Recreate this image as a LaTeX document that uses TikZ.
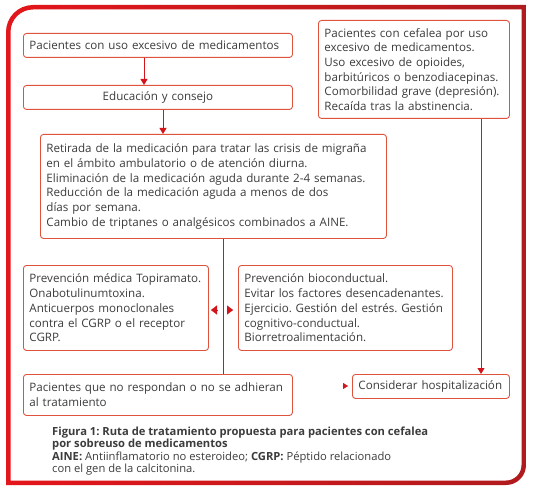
\documentclass[tikz,border=0pt]{standalone}
\usepackage{fontspec}
\setmainfont{Open Sans}
\usetikzlibrary{arrows.meta}
\frenchspacing
\definecolor{frameL}{HTML}{E3161B}
\definecolor{frameR}{HTML}{B01B1E}
\definecolor{boxc}{HTML}{DF523C}
\definecolor{arrc}{HTML}{D3141B}
\definecolor{txt}{HTML}{3C3C3C}
\tikzset{
  bx/.style={draw=boxc, line width=0.9pt, rounded corners=3pt, fill=white,
    anchor=north west, inner xsep=6pt, inner ysep=0pt, align=left,
    font=\fontsize{11.6}{14.7}\selectfont, text=txt},
  arr/.style={draw=arrc, line width=0.9pt, -{Triangle[length=6pt,width=7pt]}},
  ln/.style={draw=arrc, line width=0.9pt},
  tip/.style={draw=arrc, fill=arrc, line width=0.1pt, -{Triangle[length=6pt,width=9pt]}},
  smalltip/.style={draw=arrc, fill=arrc, line width=0.1pt, -{Triangle[length=5pt,width=6pt]}},
}
\begin{document}
\frenchspacing
\begin{tikzpicture}[x=1pt,y=1pt]
\useasboundingbox (0,0) rectangle (534,-489);
\fill[white] (0,0) rectangle (534,-489);
% frame
\shade[left color=frameL, right color=frameR, even odd rule]
  (6,-485) -- (6,-32) arc[start angle=180,end angle=90,radius=27] -- (526,-5) -- (526,-465)
  arc[start angle=0,end angle=-90,radius=20] -- cycle
  (10.5,-480.5) -- (10.5,-32) arc[start angle=180,end angle=90,radius=22.5] -- (521.5,-9.5) -- (521.5,-465)
  arc[start angle=0,end angle=-90,radius=15.5] -- cycle;

\node[bx, text width=257pt, minimum height=24pt] (b1) at (23,-33)
  {\mbox{Pacientes con uso excesivo de medicamentos}};
\node[bx, text width=257pt, minimum height=24pt, align=center] (b2) at (23,-85)
  {Educación y consejo};
\node[bx, text width=334pt, minimum height=104pt] (b3) at (40,-134)
  {\mbox{Retirada de la medicación para tratar las crisis de migraña}\\
   \mbox{en el ámbito ambulatorio o de atención diurna.}\\
   \mbox{Eliminación de la medicación aguda durante 2-4 semanas.}\\
   \mbox{Reducción de la medicación aguda a menos de dos}\\
   \mbox{días por semana.}\\
   \mbox{Cambio de triptanes o analgésicos combinados a AINE.}};
\node[bx, text width=173pt, minimum height=85pt] (b4) at (23,-265)
  {\mbox{Prevención médica Topiramato.}\\
   \mbox{Onabotulinumtoxina.}\\
   \mbox{Anticuerpos monoclonales}\\
   \mbox{contra el CGRP o el receptor}\\
   \mbox{CGRP.}};
\node[bx, text width=202pt, minimum height=85pt] (b5) at (238,-265)
  {\mbox{Prevención bioconductual.}\\
   \mbox{Evitar los factores desencadenantes.}\\
   \mbox{Ejercicio. Gestión del estrés. Gestión}\\
   \mbox{cognitivo-conductual.}\\
   \mbox{Biorretroalimentación.}};
\node[bx, text width=257pt, minimum height=41pt] (b6) at (23,-374)
  {\mbox{Pacientes que no respondan o no se adhieran}\\
   \mbox{al tratamiento}};
\node[bx, text width=145pt, minimum height=24pt] (b7) at (352,-374)
  {\mbox{Considerar hospitalización}};
\node[bx, text width=179pt, minimum height=98pt] (b8) at (318,-20)
  {\mbox{Pacientes con cefalea por uso}\\
   \mbox{excesivo de medicamentos.}\\
   \mbox{Uso excesivo de opioides,}\\
   \mbox{barbitúricos o benzodiacepinas.}\\
   \mbox{Comorbilidad grave (depresión).}\\
   \mbox{Recaída tras la abstinencia.}};

% connectors
\draw[arr] (b1.south -| 144,0) -- (b2.north -| 144,0);
\draw[arr] (b2.south -| 163,0) -- (b3.north -| 163,0);
\draw[ln] (b3.south -| 223,0) -- (b6.north -| 223,0);
\draw[arr] (b8.south -| 481,0) -- (b7.north -| 481,0);
\coordinate (mlb) at (217.5,-310);
\coordinate (mlt) at (211,-310);
\coordinate (mrb) at (226.5,-310);
\coordinate (mrt) at (233,-310);
\draw[tip] (mlb) -- (mlt);
\draw[tip] (mrb) -- (mrt);
\coordinate (hb) at (342.5,-386);
\coordinate (ht) at (348,-386);
\draw[smalltip] (hb) -- (ht);

% caption
\node[anchor=north west, inner sep=0pt, align=left, text=txt,
  font=\fontsize{11.2}{10.8}\selectfont] (cap) at (52,-427)
  {\textbf{Figura 1: Ruta de tratamiento propuesta para pacientes con cefalea}\\
   \textbf{por sobreuso de medicamentos}\\
   \textbf{AINE:} Antiinflamatorio no esteroideo; \textbf{CGRP:} Péptido relacionado\\
   con el gen de la calcitonina.};
\end{tikzpicture}
\end{document}
